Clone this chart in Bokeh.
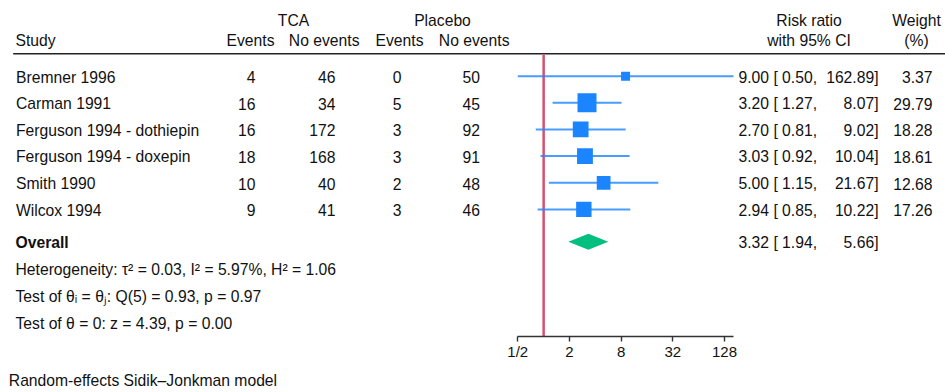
import math
from bokeh.plotting import figure
from bokeh.models import (Range1d, LogScale, LogAxis, FixedTicker, CustomJSTickFormatter,
                          ColumnDataSource)
from bokeh.core.properties import value
from bokeh.embed import file_html
from bokeh.resources import INLINE

# ---------------- data ----------------
studies = ["Bremner 1996", "Carman 1991", "Ferguson 1994 - dothiepin",
           "Ferguson 1994 - doxepin", "Smith 1990", "Wilcox 1994"]
tca_events = [4, 16, 16, 18, 10, 9]
tca_noevents = [46, 34, 172, 168, 40, 41]
pla_events = [0, 5, 3, 3, 2, 3]
pla_noevents = [50, 45, 92, 91, 48, 46]
rr = [9.00, 3.20, 2.70, 3.03, 5.00, 2.94]
rr_lo = [0.50, 1.27, 0.81, 0.92, 1.15, 0.85]
rr_hi = [162.89, 8.07, 9.02, 10.04, 21.67, 10.22]
weight = [3.37, 29.79, 18.28, 18.61, 12.68, 17.26]
overall_rr, overall_lo, overall_hi = 3.32, 1.94, 5.66
null_value = 1
tick_vals = [0.5, 2, 8, 32, 128]
tick_labels = ["1/2", "2", "8", "32", "128"]
stats_lines = ["Heterogeneity: \u03c4\u00b2 = 0.03, I\u00b2 = 5.97%, H\u00b2 = 1.06",
               "Test of \u03b8\u1d62 = \u03b8\u2c7c: Q(5) = 0.93, p = 0.97",
               "Test of \u03b8 = 0: z = 4.39, p = 0.00"]
footnote = "Random-effects Sidik\u2013Jonkman model"

# ---------------- layout ----------------
W, H = 945, 392
FONT = value("Liberation Sans")
FS = value("15.7px")
TXT = "#111111"
DY = -6.0  # baseline correction for the renderer

px_half = 517.3      # pixel of 1/2 on the log axis
px_per_doubling = 25.84
rr_start = 0.5 * 2 ** (-px_half / px_per_doubling)
rr_end = 0.5 * 2 ** ((W - px_half) / px_per_doubling)

p = figure(width=W, height=H, output_backend="svg", toolbar_location=None,
           x_range=Range1d(0, W), y_range=Range1d(H, 0),
           x_axis_location=None, y_axis_location=None, min_border=0)
p.outline_line_color = None
p.xgrid.visible = False
p.ygrid.visible = False
p.background_fill_color = "white"
p.border_fill_color = "white"
p.extra_x_ranges = {"rr": Range1d(rr_start, rr_end)}
p.extra_x_scales = {"rr": LogScale()}

n = len(studies)
row_c = [75.7 + 26.64 * i for i in range(n)]
row_b = [c + 6.8 for c in row_c]
ov_c = 241.2
ov_b = 247.5
stat_b = [274.5, 301.5, 328.5]
axis_y = 335.7
header_line_y = 53.3


def txt(xs, ys, texts, align="left", style="normal", size=FS):
    src = ColumnDataSource(dict(x=xs, y=[y + DY for y in ys], t=texts))
    p.text(x="x", y="y", text="t", source=src, text_font=FONT, text_font_size=size,
           text_align=align, text_baseline="alphabetic", text_color=TXT,
           text_font_style=style)


# headers
txt([293, 442, 808.5, 916], [25.5] * 4, ["TCA", "Placebo", "Risk ratio", "Weight"], align="center")
txt([808.5, 916], [45.5, 45.5], ["with 95% CI", "(%)"], align="center")
txt([15], [45.5], ["Study"])
txt([274, 423], [45.5, 45.5], ["Events", "Events"], align="right")
txt([359, 509], [45.5, 45.5], ["No events", "No events"], align="right")

# header rule
p.segment(x0=[12.7], x1=[W], y0=[header_line_y], y1=[header_line_y],
          line_color="#222222", line_width=1.4)

# table body
txt([15.5] * n, row_b, studies)
txt([255] * n, row_b, [str(v) for v in tca_events], align="right")
txt([335] * n, row_b, [str(v) for v in tca_noevents], align="right")
txt([401] * n, row_b, [str(v) for v in pla_events], align="right")
txt([479.5] * n, row_b, [str(v) for v in pla_noevents], align="right")
txt([738] * n, row_b, [f"{a:.2f} [ {b:.2f}," for a, b in zip(rr, rr_lo)])
txt([878] * n, row_b, [f"{c:.2f}]" for c in rr_hi], align="right")
txt([932] * n, row_b, [f"{w:.2f}" for w in weight], align="right")

# overall row
txt([15], [ov_b], ["Overall"], style="bold")
txt([738], [ov_b], [f"{overall_rr:.2f} [ {overall_lo:.2f},"])
txt([878], [ov_b], [f"{overall_hi:.2f}]"], align="right")
txt([15] * 3, stat_b, stats_lines)
txt([8.3], [386], [footnote])

# null line
p.segment(x0=[null_value], x1=[null_value], y0=[header_line_y + 1], y1=[axis_y],
          x_range_name="rr", line_color="#d6506f", line_width=2.5)

# CIs and squares
p.segment(x0=rr_lo, x1=rr_hi, y0=row_c, y1=row_c, x_range_name="rr",
          line_color="#1a85ff", line_alpha=0.8, line_width=2)
sizes = [3.93 + 2.76 * math.sqrt(w) for w in weight]
p.scatter(x=rr, y=row_c, size=sizes, marker="square", x_range_name="rr",
          fill_color="#1a85ff", line_color=None)

# overall diamond
p.patch(x=[overall_lo, overall_rr, overall_hi, overall_rr],
        y=[ov_c, ov_c - 8, ov_c, ov_c + 8], x_range_name="rr",
        fill_color="#00bf7f", line_color=None)

# log axis
ax = LogAxis(x_range_name="rr")
ax.ticker = FixedTicker(ticks=tick_vals, minor_ticks=[])
ax.formatter = CustomJSTickFormatter(args=dict(vals=tick_vals, labs=tick_labels), code="""
const i = vals.findIndex(v => Math.abs(v - tick) < 1e-6 * Math.max(1, Math.abs(v)));
return i >= 0 ? labs[i] : String(tick);
""")
ax.bounds = (min(rr_lo), max(rr_hi))
ax.fixed_location = axis_y
ax.axis_line_color = "#333333"
ax.axis_line_width = 1.4
ax.major_tick_line_color = "#333333"
ax.major_tick_line_width = 1.4
ax.major_tick_out = 5
ax.major_tick_in = 0
ax.minor_tick_line_color = None
ax.major_label_text_font = "Liberation Sans"
ax.major_label_text_font_size = "15px"
ax.major_label_text_color = TXT
ax.major_label_standoff = 2
p.add_layout(ax, "below")

open("out.html", "w").write(file_html(p, INLINE))
